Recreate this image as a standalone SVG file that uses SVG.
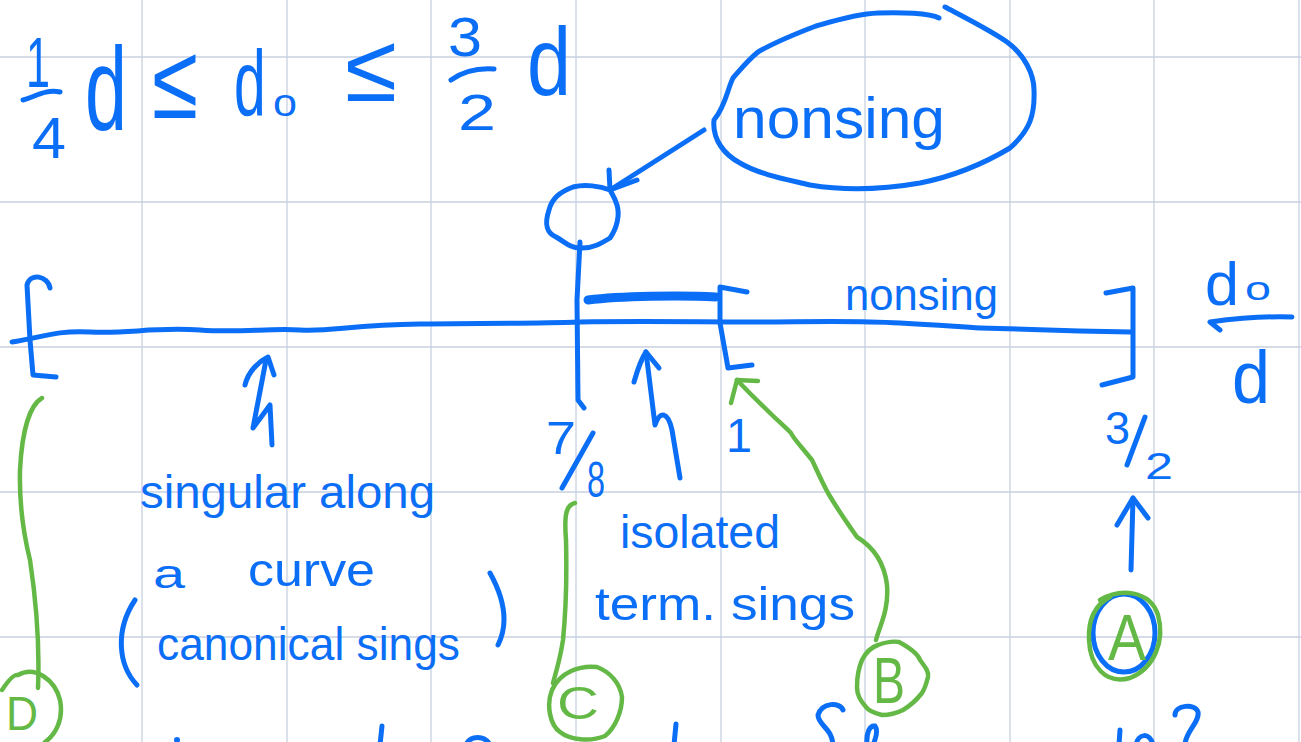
<svg xmlns="http://www.w3.org/2000/svg" width="1301" height="742" viewBox="0 0 1301 742">
<defs>
<style>
.grid line{stroke:#c7d1e1;stroke-width:1.3}
.b{fill:none;stroke:#0b6ef6;stroke-width:5;stroke-linecap:round;stroke-linejoin:round}
.g{fill:none;stroke:#64b946;stroke-width:4.5;stroke-linecap:round;stroke-linejoin:round}
.t{fill:#0b6ef6;font-family:"Liberation Sans","Noto Sans",sans-serif}
.tg{fill:#64b946;font-family:"Liberation Sans","Noto Sans",sans-serif}
</style>
</defs>
<rect width="1301" height="742" fill="#ffffff"/>
<g class="grid" id="grid">
<line x1="142" y1="0" x2="142" y2="742"/><line x1="287" y1="0" x2="287" y2="742"/><line x1="431" y1="0" x2="431" y2="742"/><line x1="576" y1="0" x2="576" y2="742"/><line x1="721" y1="0" x2="721" y2="742"/><line x1="865" y1="0" x2="865" y2="742"/><line x1="1010" y1="0" x2="1010" y2="742"/><line x1="1154" y1="0" x2="1154" y2="742"/><line x1="1299" y1="0" x2="1299" y2="742"/>
<line x1="0" y1="57" x2="1301" y2="57"/><line x1="0" y1="202" x2="1301" y2="202"/><line x1="0" y1="347" x2="1301" y2="347"/><line x1="0" y1="492" x2="1301" y2="492"/><line x1="0" y1="637" x2="1301" y2="637"/>
</g>
<g id="formula">
<text class="t" x="26" y="87" font-size="70" textLength="24" lengthAdjust="spacingAndGlyphs">1</text>
<path class="b" d="M23,100 C35,97 45,89 60,92"/>
<text class="t" x="32" y="158" font-size="58" textLength="34" lengthAdjust="spacingAndGlyphs">4</text>
<text class="t" x="85" y="130" font-size="118" textLength="42" lengthAdjust="spacingAndGlyphs">d</text>
<text class="t" x="152" y="118" font-size="106" textLength="46" lengthAdjust="spacingAndGlyphs">≤</text>
<text class="t" transform="translate(234,115) scale(0.62,1)" font-size="92">d</text>
<text class="t" x="273" y="116" font-size="38" textLength="24" lengthAdjust="spacingAndGlyphs">o</text>
<text class="t" x="345" y="101" font-size="96" textLength="52" lengthAdjust="spacingAndGlyphs">≤</text>
<text class="t" x="448" y="56" font-size="56" textLength="34" lengthAdjust="spacingAndGlyphs">3</text>
<path class="b" d="M451,80 C465,70 480,68 494,69"/>
<text class="t" x="458" y="130" font-size="50" textLength="38" lengthAdjust="spacingAndGlyphs">2</text>
<text class="t" x="527" y="95" font-size="96" textLength="44" lengthAdjust="spacingAndGlyphs">d</text>
</g>
<g id="nonsing-bubble">
<path class="b" d="M939,18 C930,13 900,12 878,13 C855,14 830,22 816,26 C795,34 770,45 758,52 C748,60 740,70 733,78 C727,90 726,105 714,120 C712,140 725,155 740,163 C760,175 790,180 810,185 C840,190 880,190 920,183 C960,175 990,160 1010,148 C1030,130 1035,115 1034,90 C1034,75 1025,55 1007,42 C990,30 960,15 945,7"/>
<text class="t" x="733" y="138" font-size="58" textLength="212" lengthAdjust="spacingAndGlyphs">nonsing</text>
</g>
<g id="point-circle">
<path class="b" d="M610,190 C600,186 585,184 573,187 C560,192 552,198 549,210 C545,222 545,232 556,237 C565,242 570,248 580,248 C592,249 602,243 610,238 C617,228 620,215 617,205 C615,198 612,194 610,190"/>
<path class="b" d="M580,242 L577,300 L578,400 L584,408"/>
</g>
<g id="axis">
<path class="b" d="M12,342 C40,338 55,330 90,332 C130,334 150,327 200,330 C240,333 270,328 300,330 C330,332 350,325 420,324 C470,323 520,324 580,322 C640,321 700,322 760,322 C800,322 850,320 900,323 C940,325 960,327 980,328 C1040,330 1080,331 1131,332"/>
<path class="b" d="M50,288 C48,276 30,272 27,285 L30,340 L33,375 L56,377"/>
<path class="b" d="M747,292 L720,287 L720,323 L728,368 L752,365"/>
<path class="b" d="M1106,293 L1133,288 L1133,377 L1102,385"/>
<path d="M588,300 C620,296 680,295 716,297" fill="none" stroke="#0b6ef6" stroke-width="9" stroke-linecap="round"/>
<text class="t" x="845" y="310" font-size="44" textLength="153" lengthAdjust="spacingAndGlyphs">nonsing</text>
</g>
<g id="axis-labels">
<text class="t" x="546" y="454" font-size="46" textLength="30" lengthAdjust="spacingAndGlyphs">7</text>
<path class="b" d="M593,433 L562,488"/>
<text class="t" x="587" y="497" font-size="50" textLength="18" lengthAdjust="spacingAndGlyphs">8</text>
<text class="t" x="726" y="452" font-size="48" textLength="26" lengthAdjust="spacingAndGlyphs">1</text>
<text class="t" x="1105" y="444" font-size="46" textLength="25" lengthAdjust="spacingAndGlyphs">3</text>
<path class="b" d="M1145,417 L1127,465"/>
<text class="t" x="1145" y="479" font-size="36" textLength="28" lengthAdjust="spacingAndGlyphs">2</text>
<text class="t" x="1205" y="305" font-size="62" textLength="34" lengthAdjust="spacingAndGlyphs">d</text>
<text class="t" x="1245" y="300" font-size="34" textLength="26" lengthAdjust="spacingAndGlyphs">o</text>
<path class="b" d="M1220,330 L1210,322 C1240,318 1265,316 1292,317"/>
<text class="t" x="1232" y="403" font-size="75" textLength="38" lengthAdjust="spacingAndGlyphs">d</text>
</g>
<g id="connectors">
<path class="b" d="M704,130 L610,190"/>
<path class="b" d="M609,170 L610,190 L637,180"/>
<path class="b" d="M266,360 L253,428 L270,405 L272,445"/>
<path class="b" d="M245,385 C248,372 258,362 268,357 L274,375"/>
<path class="b" d="M646,352 L655,425 C660,410 668,412 672,430 L680,478"/>
<path class="b" d="M634,382 C638,368 642,358 646,352 L659,368"/>
<path class="b" d="M1131,570 L1133,498"/>
<path class="b" d="M1117,525 L1133,498 L1148,518"/>
<path class="g" d="M876,640 C880,625 889,610 887,585 C884,560 870,545 857,537 C845,520 835,505 828,493 C820,478 815,466 812,460 C800,445 793,438 791,433 C783,425 775,418 770,413 C762,405 756,400 737,380"/>
<path class="g" d="M731,403 L737,380 L758,381"/>
<path class="g" d="M42,398 C30,405 22,430 20,470 C19,510 25,540 30,560 C36,600 40,640 38,688"/>
<path class="g" d="M575,503 C566,505 564,515 566,540 C567,580 566,610 563,640 C560,660 556,672 553,683"/>
</g>
<g id="label-singular">
<text class="t" x="140" y="508" font-size="46" textLength="295" lengthAdjust="spacingAndGlyphs">singular along</text>
<text class="t" x="153" y="588" font-size="40" textLength="32" lengthAdjust="spacingAndGlyphs">a</text>
<text class="t" x="248" y="586" font-size="46" textLength="127" lengthAdjust="spacingAndGlyphs">curve</text>
<path class="b" d="M137,685 C118,665 115,630 135,600"/>
<text class="t" x="157" y="660" font-size="46" textLength="303" lengthAdjust="spacingAndGlyphs">canonical sings</text>
<path class="b" d="M490,573 C505,600 508,625 498,645"/>
</g>
<g id="label-isolated">
<text class="t" x="620" y="548" font-size="46" textLength="160" lengthAdjust="spacingAndGlyphs">isolated</text>
<text class="t" x="595" y="620" font-size="46" textLength="260" lengthAdjust="spacingAndGlyphs">term. sings</text>
</g>
<g id="node-A">
<ellipse cx="1124" cy="633" rx="31" ry="39" class="b"/>
<path class="g" d="M1100,600 C1120,588 1150,590 1158,615 C1165,640 1155,668 1130,678 C1105,685 1090,665 1089,640 C1088,620 1095,605 1110,597"/>
<text class="tg" x="1108" y="660" font-size="64" textLength="38" lengthAdjust="spacingAndGlyphs">A</text>
</g>
<g id="node-B">
<path class="g" d="M899,642 C910,648 918,654 920,660 C926,668 929,672 928,677 C926,685 924,690 922,693 C915,702 908,707 903,710 C895,714 888,715 882,715 C874,713 868,710 866,707 C860,700 857,695 857,687 C857,675 859,667 862,660 C866,652 872,647 878,645 C886,642 893,641 899,642"/>
<text class="tg" x="873" y="703" font-size="64" textLength="32" lengthAdjust="spacingAndGlyphs">B</text>
</g>
<g id="node-C">
<path class="g" d="M597,667 C580,665 560,672 552,690 C546,705 550,725 560,732 C570,740 590,742 605,736 C615,728 622,712 622,697 C620,683 610,672 597,667"/>
<text class="tg" x="557" y="719" font-size="46" textLength="42" lengthAdjust="spacingAndGlyphs">C</text>
</g>
<g id="node-D">
<path class="g" d="M18,675 C35,665 55,680 60,700 C64,720 55,735 45,742 M2,690 C10,678 15,674 18,675"/>
<text class="tg" x="6" y="730" font-size="48" textLength="32" lengthAdjust="spacingAndGlyphs">D</text>
</g>
<g id="bottom-fragments">
<circle cx="177" cy="740" r="3" fill="#0b6ef6"/>
<path class="b" d="M382,726 L380,745"/>
<path class="b" d="M466,745 C470,735 485,735 490,745"/>
<path class="b" d="M676,724 L674,745"/>
<path class="b" d="M843,710 C840,702 822,702 818,715 C818,725 832,728 833,745"/>
<path class="b" d="M867,745 C866,732 870,725 875,726 C878,730 876,738 873,745"/>
<path class="b" d="M1120,730 L1119,745"/>
<path class="b" d="M1136,745 C1138,733 1150,732 1153,745"/>
<path class="b" d="M1175,715 C1175,705 1195,703 1198,712 C1200,722 1185,732 1185,745"/>
</g>
</svg>
